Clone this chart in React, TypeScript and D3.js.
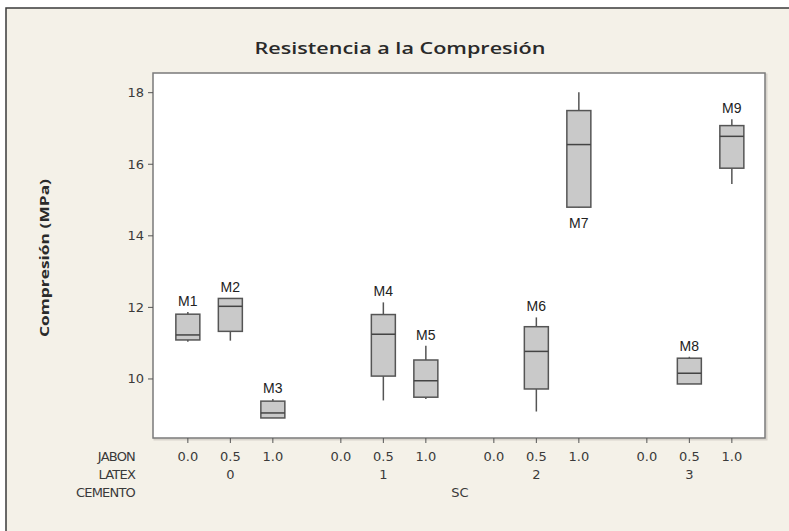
import React from "react";
import * as d3 from "d3";

const jabonLabels = ["0.0", "0.5", "1.0"];
const latexLabels = ["0", "1", "2", "3"];
const cementoLabel = "SC";
const yTicks = [10, 12, 14, 16, 18];

const boxNames = ["M1", "M2", "M3", "M4", "M5", "M6", "M7", "M8", "M9"];
const boxLatex = [0, 0, 0, 1, 1, 2, 2, 3, 3];
const boxJabon = [0, 1, 2, 1, 2, 1, 2, 1, 2];
const boxMin = [11.04, 11.07, 8.91, 9.4, 9.44, 9.09, 14.78, 9.86, 15.45];
const boxQ1 = [11.09, 11.33, 8.91, 10.08, 9.49, 9.72, 14.8, 9.86, 15.89];
const boxMed = [11.23, 12.03, 9.05, 11.25, 9.95, 10.77, 16.55, 10.16, 16.78];
const boxQ3 = [11.81, 12.25, 9.38, 11.8, 10.53, 11.46, 17.5, 10.58, 17.08];
const boxMax = [11.87, 12.25, 9.44, 12.14, 10.93, 11.72, 18.01, 10.62, 17.26];
const labelBelow = [false, false, false, false, false, false, true, false, false];

const W = 789;
const H = 531;
const plot = { left: 153, right: 765, top: 73, bottom: 438 };
const GROUP_GAP = 0.6;

export default function App() {
  const pos = (g: number, j: number) => g * (3 + GROUP_GAP) + j;
  const x = d3.scaleLinear().domain([-0.82, 13.58]).range([plot.left, plot.right]);
  const y = d3.scaleLinear().domain([8.35, 18.55]).range([plot.bottom, plot.top]);
  const bw = 12;
  const tickFont = "'DejaVu Sans', sans-serif";
  const lblFont = "'Liberation Sans', Arial, sans-serif";
  const rowY = [461, 479, 497];

  const ticks: { g: number; j: number }[] = [];
  latexLabels.forEach((_, g) => jabonLabels.forEach((_, j) => ticks.push({ g, j })));

  return (
    <svg width={W} height={H} style={{ position: "absolute", left: 0, top: 0, display: "block" }}>
      <rect x={0} y={0} width={W} height={H} fill="#ffffff" />
      <rect x={6} y={8} width={W + 10} height={H} fill="#f4f1e8" stroke="#3a3a3a" strokeWidth={1.5} />
      <text x={400} y={54} textAnchor="middle" fontFamily="'Open Sans', sans-serif" fontSize={17} fontWeight={600} fill="#2a2a2a" textLength={291} lengthAdjust="spacingAndGlyphs">
        Resistencia a la Compresión
      </text>
      <rect x={plot.left + 1.5} y={plot.top + 1.5} width={plot.right - plot.left} height={plot.bottom - plot.top} fill="none" stroke="#d8d4cc" strokeWidth={2} />
      <rect x={plot.left} y={plot.top} width={plot.right - plot.left} height={plot.bottom - plot.top} fill="#ffffff" stroke="#7a7a7a" strokeWidth={1.5} />

      {yTicks.map((t) => (
        <g key={t}>
          <line x1={plot.left - 5} x2={plot.left} y1={y(t)} y2={y(t)} stroke="#555" strokeWidth={1} />
          <text x={plot.left - 9} y={y(t) + 4.5} textAnchor="end" fontFamily={tickFont} fontSize={13} fill="#3a3a3a">
            {t}
          </text>
        </g>
      ))}
      <text transform={`translate(49,258) rotate(-90)`} textAnchor="middle" fontFamily="'Open Sans', sans-serif" fontSize={13} fontWeight={700} fill="#2a2a2a" textLength={158} lengthAdjust="spacingAndGlyphs">
        Compresión (MPa)
      </text>

      {ticks.map(({ g, j }) => (
        <g key={`${g}-${j}`}>
          <line x1={x(pos(g, j))} x2={x(pos(g, j))} y1={plot.bottom} y2={plot.bottom + 5} stroke="#555" strokeWidth={1} />
          <text x={x(pos(g, j))} y={rowY[0]} textAnchor="middle" fontFamily={tickFont} fontSize={13} fill="#3a3a3a">
            {jabonLabels[j]}
          </text>
        </g>
      ))}
      {latexLabels.map((l, g) => (
        <text key={l} x={x(pos(g, 1))} y={rowY[1]} textAnchor="middle" fontFamily={tickFont} fontSize={13} fill="#3a3a3a">
          {l}
        </text>
      ))}
      <text x={(x(pos(0, 0)) + x(pos(3, 2))) / 2} y={rowY[2]} textAnchor="middle" fontFamily={tickFont} fontSize={13} fill="#3a3a3a">
        {cementoLabel}
      </text>
      {["JABON", "LATEX", "CEMENTO"].map((r, i) => (
        <text key={r} x={135} y={rowY[i]} textAnchor="end" fontFamily={tickFont} fontSize={13} fill="#3a3a3a" letterSpacing={-0.8}>
          {r}
        </text>
      ))}

      {boxNames.map((n, i) => {
        const cx = x(pos(boxLatex[i], boxJabon[i]));
        return (
          <g key={n}>
            <line x1={cx} x2={cx} y1={y(boxMax[i])} y2={y(boxQ3[i])} stroke="#555" strokeWidth={1.5} />
            <line x1={cx} x2={cx} y1={y(boxQ1[i])} y2={y(boxMin[i])} stroke="#555" strokeWidth={1.5} />
            <rect x={cx - bw} y={y(boxQ3[i])} width={bw * 2} height={y(boxQ1[i]) - y(boxQ3[i])} fill="#c9c9c9" stroke="#555" strokeWidth={1.5} />
            <line x1={cx - bw} x2={cx + bw} y1={y(boxMed[i])} y2={y(boxMed[i])} stroke="#444" strokeWidth={1.5} />
            <text x={cx} y={labelBelow[i] ? y(boxMin[i]) + 20 : y(boxMax[i]) - 6} textAnchor="middle" fontFamily={lblFont} fontSize={14} fill="#222">
              {n}
            </text>
          </g>
        );
      })}
    </svg>
  );
}
